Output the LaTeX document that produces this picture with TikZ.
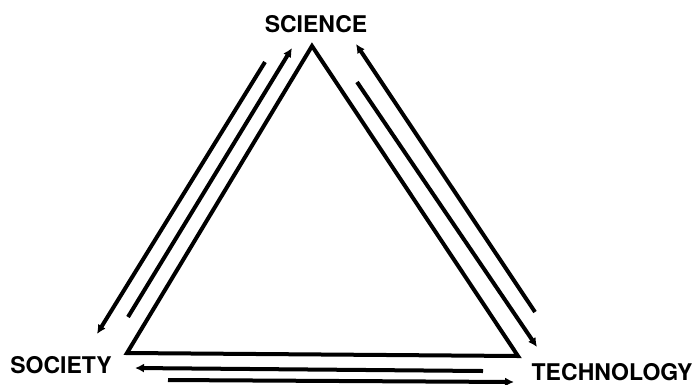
\documentclass[tikz,border=0pt]{standalone}
\usepackage{fontspec}
\setsansfont{TeX Gyre Heros}
\usepackage{tikz}
\usetikzlibrary{arrows.meta, calc}

\tikzset{
    flow/.style={line width=4pt, -{Latex[length=9pt,width=9pt]}},
    corner/.style={font=\sffamily\bfseries\fontsize{23}{23}\selectfont, inner sep=0pt}
}

\begin{document}
\begin{tikzpicture}[x=1pt, y=-1pt, >=Stealth]
        \useasboundingbox (0,0) rectangle (698,384);

        % Labels
        \node[corner] (science) at (316,24) {SCIENCE};
        \node[corner] (society) at (61,365) {SOCIETY};
        \node[corner] (technology) at (612,372) {TECHNOLOGY};

        % Triangle
        \coordinate (top) at (312,46);
        \coordinate (left) at (127,353);
        \coordinate (right) at (518,356);
        \draw[line width=4pt, line join=miter] (top) -- (right) -- (left) -- cycle;

        % Arrow end points
        \coordinate (a1) at (128,317);  \coordinate (a2) at (292,48);
        \coordinate (b1) at (265,62);   \coordinate (b2) at (97,334);
        \coordinate (c1) at (357,82);   \coordinate (c2) at (537,347);
        \coordinate (d1) at (535,312);  \coordinate (d2) at (356,44);
        \coordinate (e1) at (483,371);  \coordinate (e2) at (135,368);
        \coordinate (f1) at (168,380);  \coordinate (f2) at (514,382);

        % Arrows
        \draw[flow] (a1) -- (a2);
        \draw[flow] (b1) -- (b2);
        \draw[flow] (c1) -- (c2);
        \draw[flow] (d1) -- (d2);
        \draw[flow] (e1) -- (e2);
        \draw[flow] (f1) -- (f2);
    \end{tikzpicture}
\end{document}
